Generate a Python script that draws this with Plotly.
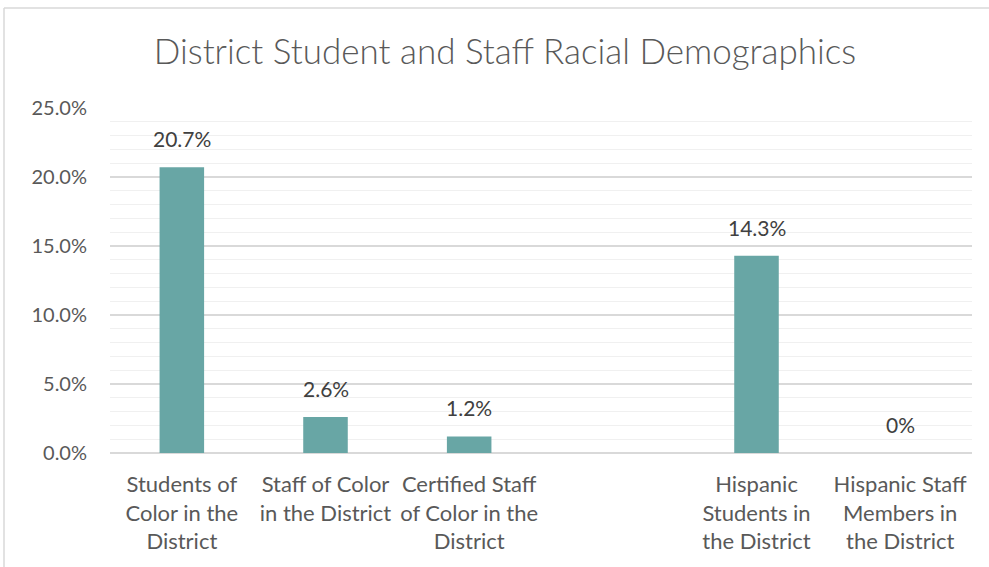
import plotly.graph_objects as go

# Demographic groups (the blank slot separates the two groups of bars)
categories = [
    "Students of<br>Color in the<br>District",
    "Staff of Color<br>in the District",
    "Certified Staff<br>of Color in the<br>District",
    " ",
    "Hispanic<br>Students in<br>the District",
    "Hispanic Staff<br>Members in<br>the District",
]
values = [20.7, 2.6, 1.2, None, 14.3, 0.0]
y_ticks = [0, 5, 10, 15, 20, 25]
y_tick_labels = ["0.0%", "5.0%", "10.0%", "15.0%", "20.0%", "25.0%"]

BAR = "#68a6a5"
FONT = "Lato, 'Open Sans', sans-serif"

W, H = 989, 567
L, R, T, B = 110, 17, 108, 114


def label_for(v):
    return "0%" if v == 0 else f"{v:.1f}%"


fig = go.Figure(
    go.Bar(
        x=categories,
        y=values,
        marker=dict(color=BAR, line=dict(width=0)),
        width=0.31,
        hoverinfo="skip",
    )
)

for c, v in zip(categories, values):
    if v is None:
        continue
    fig.add_annotation(
        x=c, y=v, text=label_for(v), showarrow=False,
        yanchor="bottom", yshift=14,
        font=dict(family=FONT, size=21, color="#404040"),
    )

# chart frame
px = lambda x: (x - L) / (W - L - R)
py = lambda y: (H - B - y) / (H - T - B)
fig.add_shape(type="line", xref="paper", yref="paper",
              x0=px(4), x1=px(W + 5), y0=py(8), y1=py(8),
              line=dict(color="#d9d9d9", width=1.5))
fig.add_shape(type="line", xref="paper", yref="paper",
              x0=px(4), x1=px(4), y0=py(8), y1=py(H + 5),
              line=dict(color="#d9d9d9", width=1.5))

fig.update_layout(
    width=W, height=H,
    margin=dict(l=L, r=R, t=T, b=B),
    paper_bgcolor="white", plot_bgcolor="white",
    showlegend=False,
    title=dict(
        text="District Student and Staff Racial Demographics",
        x=505 / W, xanchor="center", xref="container",
        y=1 - 52 / H, yanchor="middle",
        font=dict(family=FONT, size=35, color="#595959", weight=300),
    ),
    bargap=0.69,
    xaxis=dict(
        type="category",
        showgrid=False, zeroline=False,
        showline=False, ticks="",
        tickfont=dict(family=FONT, size=22, color="#595959"),
        ticklabelstandoff=16,
    ),
    yaxis=dict(
        range=[0, 25],
        tickvals=y_ticks, ticktext=y_tick_labels,
        showgrid=True, gridcolor="#d9d9d9", gridwidth=1.5,
        minor=dict(dtick=1, showgrid=True, gridcolor="#f0f0f0", gridwidth=1),
        zeroline=True, zerolinecolor="#d9d9d9", zerolinewidth=1.5,
        showline=False, ticks="", ticklen=0,
        tickfont=dict(family=FONT, size=20, color="#595959"),
        ticklabelstandoff=22,
    ),
)

fig.write_html("out.html")
